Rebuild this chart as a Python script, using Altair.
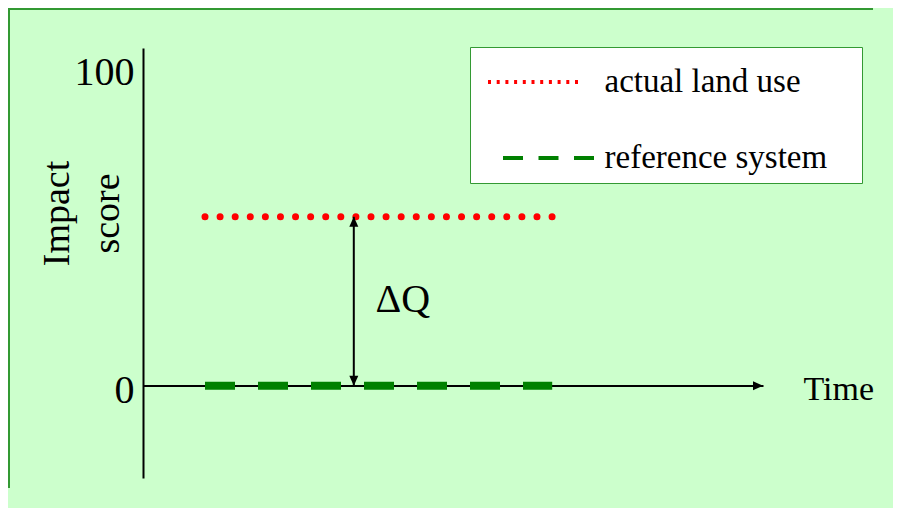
import altair as alt
import pandas as pd

# ---- data ----
series = ["actual land use", "reference system"]
series_colors = ["#FF0000", "#008000"]
series_score = [53, 0]          # impact score of each system
series_start = [10, 10]         # time where the lines start
series_end = [66, 66]           # time where the lines end
delta_time = [34]               # time where the ΔQ arrow is drawn
delta_low = [0]
delta_high = [53]
dq_text = ["ΔQ"]
dq_time = [37.5]
dq_score = [23]
time_axis_end = [100]
y_ticks = [0, 100]

FONT = "Liberation Serif"

lines = pd.DataFrame({
    "series": series * 2,
    "time": series_start + series_end,
    "score": series_score * 2,
})
starts = pd.DataFrame({"series": series, "time": series_start, "score": series_score})
arrow = pd.DataFrame({"time": delta_time, "low": delta_low, "high": delta_high})
dq = pd.DataFrame({"label": dq_text, "time": dq_time, "score": dq_score})
xhead = pd.DataFrame({"time": time_axis_end, "score": [0]})

xscale = alt.Scale(domain=[0, 100], nice=False, zero=False)
yscale = alt.Scale(domain=[-29, 106], nice=False, zero=False)

x_axis = alt.Axis(values=[], ticks=False, labels=False, grid=False,
                  domainColor="black", domainWidth=2, offset=-92.4,
                  title="Time", titleFont=FONT, titleFontSize=34,
                  titleFontWeight="normal", titleColor="black",
                  titleX=660, titleY=13.5, titleAlign="left",
                  titleBaseline="alphabetic", titleAngle=0)
y_axis = alt.Axis(values=y_ticks, ticks=False, tickSize=0, grid=False,
                  domainColor="black", domainWidth=2,
                  labelFont=FONT, labelFontSize=40, labelColor="black",
                  labelPadding=9, labelAlign="right", labelBaseline="alphabetic",
                  labelOffset=17, labelFlush=False,
                  title=["Impact", "score"], titleFont=FONT, titleFontSize=38,
                  titleFontWeight="normal", titleColor="black", titleAngle=270,
                  titleLineHeight=50, titleX=-75, titleY=165,
                  titleAlign="center", titleBaseline="alphabetic")

# legend sample styles
red_legend_dash = [3, 5.7] * 10 + [3, 400]
green_legend_dash = [0, 15, 20, 15.5, 20, 15.5, 20, 400]


def make_legend():
    return alt.Legend(
        title=" ", titleFontSize=1, titlePadding=9.5,
        orient="none", legendX=327, legendY=-1, direction="vertical",
        fillColor="#FFFFFF", strokeColor="#339933", padding=8,
        labelFont=FONT, labelFontSize=33, labelColor="black", labelLimit=500,
        labelOffset=100, symbolOffset=-6.5, rowPadding=42,
        symbolType="M0,0L35.8,0", symbolSize=400, symbolStrokeWidth=4,
    )


X = alt.X("time:Q", scale=xscale, axis=x_axis)
Y = alt.Y("score:Q", scale=yscale, axis=y_axis)

base = alt.Chart(lines)

green_line = base.transform_filter(alt.datum.series == series[1]).mark_line(
    strokeDash=[30, 23], strokeWidth=8, strokeCap="butt", color=series_colors[1]
).encode(x=X, y=Y)

red_line = base.transform_filter(alt.datum.series == series[0]).mark_line(
    strokeDash=[0.01, 15.08], strokeWidth=7, strokeCap="round", color=series_colors[0]
).encode(x=X, y=Y)

# legend carrier: one point per series, so its lines draw nothing
legend_layer = alt.Chart(starts).mark_line().encode(
    x=X, y=Y,
    color=alt.Color("series:N", scale=alt.Scale(domain=series, range=series_colors),
                    legend=make_legend()),
    strokeDash=alt.StrokeDash("series:N",
                              scale=alt.Scale(domain=series,
                                              range=[red_legend_dash, green_legend_dash]),
                              legend=make_legend()),
)

arrow_rule = alt.Chart(arrow).mark_rule(color="black", strokeWidth=2).encode(
    x=alt.X("time:Q", scale=xscale, axis=x_axis),
    y=alt.Y("low:Q", scale=yscale, axis=y_axis),
    y2="high:Q",
)
head_up = alt.Chart(arrow).mark_point(
    shape="M0,0L-0.45,1L0.45,1Z", filled=True, size=400, color="black",
    opacity=1, strokeWidth=0
).encode(x=alt.X("time:Q", scale=xscale, axis=x_axis),
         y=alt.Y("high:Q", scale=yscale, axis=y_axis))
head_down = alt.Chart(arrow).mark_point(
    shape="M0,0L-0.45,-1L0.45,-1Z", filled=True, size=400, color="black",
    opacity=1, strokeWidth=0
).encode(x=alt.X("time:Q", scale=xscale, axis=x_axis),
         y=alt.Y("low:Q", scale=yscale, axis=y_axis))
head_right = alt.Chart(xhead).mark_point(
    shape="M0,0L-1,-0.45L-1,0.45Z", filled=True, size=400, color="black",
    opacity=1, strokeWidth=0
).encode(x=X, y=Y)

dq_label = alt.Chart(dq).mark_text(
    font=FONT, fontSize=40, color="black", align="left", baseline="alphabetic"
).encode(x=X, y=Y, text="label:N")

# slide frame: top and left edges as thin filled bars (kept inside the picture)
frame_left = alt.Chart(dq).mark_rect(color="#339933", strokeWidth=0).encode(
    x=alt.value(-135), x2=alt.value(-133), y=alt.value(-40), y2=alt.value(440))
frame_top = alt.Chart(dq).mark_rect(color="#339933", strokeWidth=0).encode(
    x=alt.value(-135), x2=alt.value(730), y=alt.value(-40), y2=alt.value(-38))

chart = alt.layer(
    frame_left, frame_top, legend_layer, green_line, red_line, arrow_rule,
    head_up, head_down, head_right, dq_label
).properties(
    width=620, height=430,
    autosize="none",
    padding={"left": 135, "top": 40, "right": 130, "bottom": 30},
    background="#CCFFCC",
).configure_view(stroke="transparent")

chart.save("out.html", embed_options={"renderer": "svg", "actions": False})
